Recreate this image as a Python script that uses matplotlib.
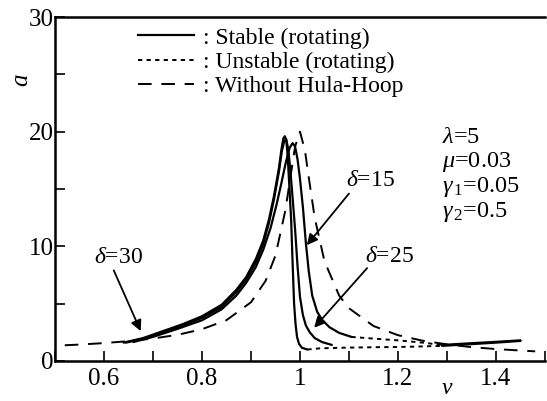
import matplotlib
matplotlib.use("Agg")
import matplotlib.pyplot as plt
import matplotlib.transforms as mtransforms
from matplotlib.lines import Line2D
from matplotlib.ticker import MultipleLocator

plt.rcParams['font.family'] = 'serif'
plt.rcParams['font.serif'] = ['Liberation Serif', 'DejaVu Serif']
plt.rcParams['mathtext.fontset'] = 'custom'
plt.rcParams['mathtext.rm'] = 'Liberation Serif'
plt.rcParams['mathtext.it'] = 'Liberation Serif:italic'

# without hula-hoop (dashed)
nu_free = [0.52, 0.55, 0.6, 0.65, 0.7, 0.75, 0.8, 0.85, 0.9, 0.93, 0.95, 0.97, 0.98, 0.99,
           1.0, 1.01, 1.02, 1.03, 1.05, 1.08, 1.1, 1.15, 1.2, 1.25, 1.3, 1.35, 1.4, 1.45, 1.48]
a_free = [1.37, 1.43, 1.56, 1.73, 1.96, 2.28, 2.77, 3.56, 5.12, 7.0, 9.2, 13.1, 15.9, 18.7,
          20.0, 18.4, 15.4, 12.5, 8.7, 5.7, 4.6, 3.05, 2.25, 1.77, 1.45, 1.21, 1.04, 0.91, 0.84]

# stable branches (solid)
nu_d15 = [0.66, 0.7, 0.75, 0.8, 0.84, 0.87, 0.89, 0.91, 0.925, 0.94, 0.952, 0.962, 0.971,
          0.979, 0.985, 0.99, 0.995, 1.0, 1.006, 1.012, 1.018, 1.025, 1.035, 1.045, 1.06,
          1.08, 1.105]
a_d15 = [1.65, 2.1, 2.8, 3.55, 4.5, 5.7, 6.8, 8.2, 9.7, 11.6, 13.6, 15.5, 17.3,
         18.6, 19.0, 18.7, 17.6, 15.9, 13.4, 10.3, 7.8, 5.7, 4.3, 3.6, 2.95,
         2.45, 2.1]

nu_d25 = [0.645, 0.68, 0.72, 0.76, 0.8, 0.84, 0.87, 0.89, 0.91, 0.925, 0.937, 0.947, 0.957,
          0.963, 0.968, 0.972, 0.976, 0.98, 0.985, 0.99, 0.995, 1.0, 1.006, 1.012, 1.02,
          1.03, 1.045, 1.065]
a_d25 = [1.6, 1.95, 2.5, 3.1, 3.75, 4.7, 6.0, 7.1, 8.6, 10.2, 12.1, 14.1, 16.5,
         18.3, 19.2, 19.3, 18.5, 16.8, 14.2, 11.5, 8.3, 5.6, 4.0, 3.1, 2.5,
         2.0, 1.65, 1.4]

nu_d30 = [0.64, 0.68, 0.72, 0.76, 0.8, 0.84, 0.87, 0.89, 0.91, 0.925, 0.937, 0.947, 0.957,
          0.962, 0.966, 0.969, 0.972, 0.975, 0.978, 0.982, 0.985, 0.988, 0.991, 0.994,
          0.998, 1.004, 1.015]
a_d30 = [1.6, 2.0, 2.6, 3.2, 3.9, 4.9, 6.2, 7.3, 8.9, 10.5, 12.4, 14.4, 16.8,
         18.4, 19.4, 19.6, 19.3, 17.8, 15.5, 12.3, 8.5, 5.0, 3.2, 2.1,
         1.5, 1.15, 1.0]

nu_tail1 = [1.29, 1.35, 1.4, 1.45]
a_tail1 = [1.4, 1.55, 1.67, 1.8]
nu_tail2 = [1.29, 1.35, 1.4, 1.45]
a_tail2 = [1.32, 1.47, 1.6, 1.75]

# unstable branches (dotted)
nu_un1 = [1.105, 1.15, 1.2, 1.25, 1.29]
a_un1 = [2.1, 1.95, 1.8, 1.6, 1.4]
nu_un2 = [1.015, 1.04, 1.08, 1.15, 1.2, 1.25, 1.29]
a_un2 = [1.0, 1.1, 1.15, 1.2, 1.22, 1.27, 1.32]

fig = plt.figure(figsize=(5.47, 4.01), dpi=100)
ax = fig.add_axes([0.1005, 0.0998, 0.8958, 0.8578])

lw = 1.6
ax.plot(nu_free, a_free, color='black', lw=1.4, dashes=(7, 5))
for nu, a in [(nu_d15, a_d15), (nu_d25, a_d25), (nu_d30, a_d30),
              (nu_tail1, a_tail1), (nu_tail2, a_tail2)]:
    ax.plot(nu, a, color='black', lw=lw, solid_capstyle='round', solid_joinstyle='round')
ax.plot(nu_un1, a_un1, color='black', lw=1.4, dashes=(2.2, 2.2))
ax.plot(nu_un2, a_un2, color='black', lw=1.4, dashes=(2.2, 2.2))

ax.set_xlim(0.5, 1.5)
ax.set_ylim(0, 30)
ax.xaxis.set_major_locator(MultipleLocator(0.2))
ax.xaxis.set_minor_locator(MultipleLocator(0.1))
ax.yaxis.set_major_locator(MultipleLocator(10))
ax.yaxis.set_minor_locator(MultipleLocator(5))
ax.xaxis.set_major_formatter(plt.FuncFormatter(lambda v, p: '1' if abs(v - 1) < 1e-9 else f'{v:g}'))
ax.tick_params(which='both', direction='in', width=1.2, labelsize=18, top=False, right=False)
ax.tick_params(which='major', length=7)
ax.tick_params(which='minor', length=7)
ax.tick_params(axis='x', pad=5)
ax.tick_params(axis='y', pad=1)
for s in ['left', 'bottom', 'top']:
    ax.spines[s].set_linewidth(1.8)
ax.spines['right'].set_visible(False)

# axis labels
ax.text(1.30, -0.08, r'$\nu$', transform=mtransforms.blended_transform_factory(ax.transData, ax.transAxes),
        fontsize=17, ha='center', va='center')
ax.text(-0.068, 24.5, r'$a$', transform=mtransforms.blended_transform_factory(ax.transAxes, ax.transData),
        fontsize=18, ha='center', va='center', rotation=90)

# legend
handles = [Line2D([], [], color='black', lw=1.6),
           Line2D([], [], color='black', lw=1.4, dashes=(2.2, 2.2)),
           Line2D([], [], color='black', lw=1.4, dashes=(7, 5))]
labels = [': Stable (rotating)', ': Unstable (rotating)', ': Without Hula-Hoop']
ax.legend(handles, labels, loc='upper left', bbox_to_anchor=(0.145, 1.005), frameon=False,
          fontsize=17, handlelength=2.4, handletextpad=0.35, labelspacing=0.12, borderpad=0.0)

# parameters
params = [r'$\lambda$=5', r'$\mu$=0.03', r'$\gamma_{\,1}$=0.05', r'$\gamma_{\,2}$=0.5']
for i, t in enumerate(params):
    ax.text(1.29, 19.5 - 2.17 * i, t, fontsize=17.5, ha='left', va='center')

# delta annotations
arrow = dict(arrowstyle='-|>', color='black', lw=1.3, mutation_scale=16, shrinkA=0, shrinkB=0)
ax.text(0.629, 9.0, r'$\delta$=30', fontsize=17, ha='center', va='center')
ax.annotate('', xy=(0.675, 2.6), xytext=(0.62, 7.9), arrowprops=arrow)
ax.text(1.143, 15.7, r'$\delta$=15', fontsize=17, ha='center', va='center')
ax.annotate('', xy=(1.014, 10.1), xytext=(1.1, 14.6), arrowprops=arrow)
ax.text(1.182, 9.1, r'$\delta$=25', fontsize=17, ha='center', va='center')
ax.annotate('', xy=(1.029, 2.9), xytext=(1.137, 8.1), arrowprops=arrow)

fig.savefig('out.png', dpi=100)
